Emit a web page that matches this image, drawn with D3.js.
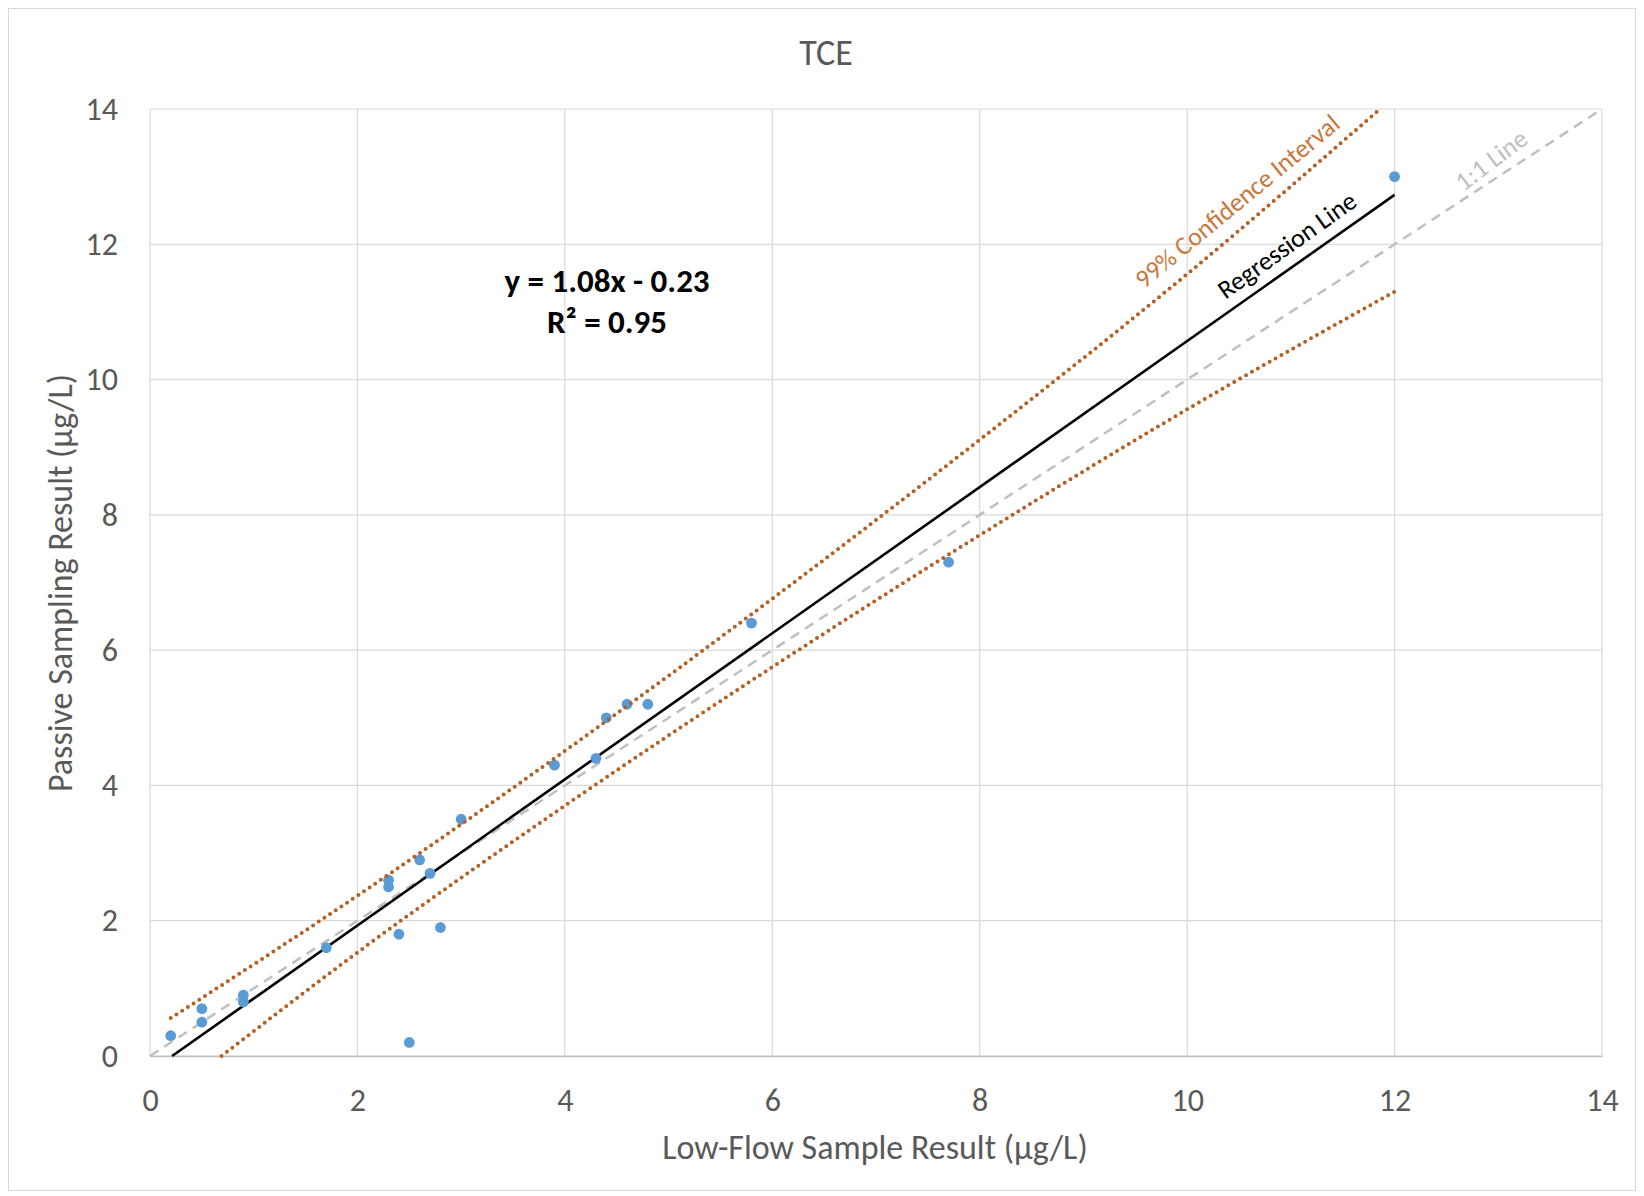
<!DOCTYPE html>
<html lang="en">
  <head>
    <meta charset="UTF-8" />
    <title>TCE</title>
    <script src="https://cdnjs.cloudflare.com/ajax/libs/d3/7.8.5/d3.min.js"></script>
    <style>
      body {
        margin: 0;
        background: #fff;
      }
      svg text {
        font-family: Carlito, Calibri, Lato, sans-serif;
      }
      .grid line {
        stroke: #d9d9d9;
        stroke-width: 1.2;
      }
      .tick text {
        fill: #595959;
        font-size: 32px;
      }
    </style>
  </head>
  <body>
    <svg width="1644" height="1196"></svg>
    <script>
      // Measured points (Low-flow vs passive sampling, µg/L)
      const lowFlow = [0.2, 0.5, 0.5, 0.9, 0.9, 1.7, 2.3, 2.3, 2.4, 2.5, 2.6, 2.7, 2.8, 3.0, 3.9, 4.3, 4.4, 4.6, 4.8, 5.8, 7.7, 12.0];
      const passive = [0.3, 0.7, 0.5, 0.9, 0.8, 1.6, 2.6, 2.5, 1.8, 0.2, 2.9, 2.7, 1.9, 3.5, 4.3, 4.4, 5.0, 5.2, 5.2, 6.4, 7.3, 13.0];

      // Lines
      const regX = [0.213, 12];
      const regY = [0, 12.73];
      const oneX = [0, 14];
      const oneY = [0, 14];
      const ciUpperX = [0.2, 2, 4, 6, 8, 10, 11.86];
      const ciUpperY = [0.56, 2.37, 4.51, 6.76, 9.11, 11.56, 14.0];
      const ciLowerX = [0.69, 2, 4, 6, 8, 10, 12];
      const ciLowerY = [0, 1.53, 3.7, 5.75, 7.7, 9.56, 11.3];

      const ticks = [0, 2, 4, 6, 8, 10, 12, 14];

      const svg = d3.select('svg'),
        width = +svg.attr('width'),
        height = +svg.attr('height');

      const margin = { left: 150, right: 42, top: 109, bottom: 140 };

      const x = d3.scaleLinear().domain([0, 14]).range([margin.left, width - margin.right]);
      const y = d3.scaleLinear().domain([0, 14]).range([height - margin.bottom, margin.top]);

      // chart frame
      svg
        .append('rect')
        .attr('x', 8.5)
        .attr('y', 8.5)
        .attr('width', width - 17)
        .attr('height', height - 14)
        .attr('fill', '#fff')
        .attr('stroke', '#d9d9d9');

      // gridlines
      const grid = svg.append('g').attr('class', 'grid');
      grid
        .selectAll('line.v')
        .data(ticks)
        .enter()
        .append('line')
        .attr('class', 'v')
        .attr('x1', d => x(d))
        .attr('x2', d => x(d))
        .attr('y1', y(0))
        .attr('y2', y(14));
      grid
        .selectAll('line.h')
        .data(ticks)
        .enter()
        .append('line')
        .attr('class', 'h')
        .attr('x1', x(0))
        .attr('x2', x(14))
        .attr('y1', d => y(d))
        .attr('y2', d => y(d));

      // axes (labels only)
      svg
        .append('g')
        .attr('transform', `translate(0,${y(0)})`)
        .call(d3.axisBottom(x).tickValues(ticks).tickSize(0).tickPadding(32))
        .call(g => g.select('.domain').attr('stroke', '#bfbfbf').attr('stroke-width', 1.5));
      svg
        .append('g')
        .attr('transform', `translate(${x(0)},0)`)
        .call(d3.axisLeft(y).tickValues(ticks).tickSize(0).tickPadding(32))
        .call(g => g.select('.domain').remove());

      const line = d3
        .line()
        .x(d => x(d[0]))
        .y(d => y(d[1]));

      // 1:1 line
      svg
        .append('path')
        .datum(d3.zip(oneX, oneY))
        .attr('d', line)
        .attr('fill', 'none')
        .attr('stroke', '#bfbfbf')
        .attr('stroke-width', 2.5)
        .attr('stroke-dasharray', '10,7');

      // regression
      svg
        .append('path')
        .datum(d3.zip(regX, regY))
        .attr('d', line)
        .attr('fill', 'none')
        .attr('stroke', '#000')
        .attr('stroke-width', 2.6);

      // points
      svg
        .selectAll('circle.pt')
        .data(d3.zip(lowFlow, passive))
        .enter()
        .append('circle')
        .attr('class', 'pt')
        .attr('cx', d => x(d[0]))
        .attr('cy', d => y(d[1]))
        .attr('r', 5.4)
        .attr('fill', '#5b9bd5');

      // confidence band
      const curve = line.curve(d3.curveMonotoneX);
      [d3.zip(ciUpperX, ciUpperY), d3.zip(ciLowerX, ciLowerY)].forEach(pts => {
        svg
          .append('path')
          .datum(pts)
          .attr('d', curve)
          .attr('fill', 'none')
          .attr('stroke', '#b45f24')
          .attr('stroke-width', 4)
          .attr('stroke-linecap', 'round')
          .attr('stroke-dasharray', '0,6.8');
      });

      // line labels
      const labels = [
        { text: '99% Confidence Interval', x: 10.48, y: 12.64, angle: -39.5, color: '#c8783c' },
        { text: 'Regression Line', x: 10.96, y: 11.99, angle: -35.5, color: '#000' },
        { text: '1:1 Line', x: 12.93, y: 13.25, angle: -37, color: '#bfbfbf' },
      ];
      svg
        .selectAll('text.lbl')
        .data(labels)
        .enter()
        .append('text')
        .attr('class', 'lbl')
        .attr('transform', d => `translate(${x(d.x)},${y(d.y)}) rotate(${d.angle})`)
        .attr('text-anchor', 'middle')
        .attr('dy', '0.35em')
        .style('font-size', '26px')
        .attr('fill', d => d.color)
        .text(d => d.text);

      // equation
      const eq = svg
        .append('text')
        .attr('text-anchor', 'middle')
        .style('font-size', '33px')
        .style('font-weight', 'bold')
        .attr('fill', '#000');
      eq.append('tspan').attr('x', 607).attr('y', 292).text('y = 1.08x - 0.23');
      eq.append('tspan').attr('x', 607).attr('y', 333).text('R² = 0.95');

      // title
      svg
        .append('text')
        .attr('x', 826)
        .attr('y', 65)
        .attr('text-anchor', 'middle')
        .style('font-size', '36px')
        .attr('fill', '#595959')
        .text('TCE');

      // axis titles
      svg
        .append('text')
        .attr('x', 875)
        .attr('y', 1159)
        .attr('text-anchor', 'middle')
        .style('font-size', '34px')
        .attr('fill', '#595959')
        .text('Low-Flow Sample Result (µg/L)');

      svg
        .append('text')
        .attr('transform', 'translate(72,583) rotate(-90)')
        .attr('text-anchor', 'middle')
        .style('font-size', '34px')
        .attr('fill', '#595959')
        .text('Passive Sampling Result (µg/L)');
    </script>
  </body>
</html>
